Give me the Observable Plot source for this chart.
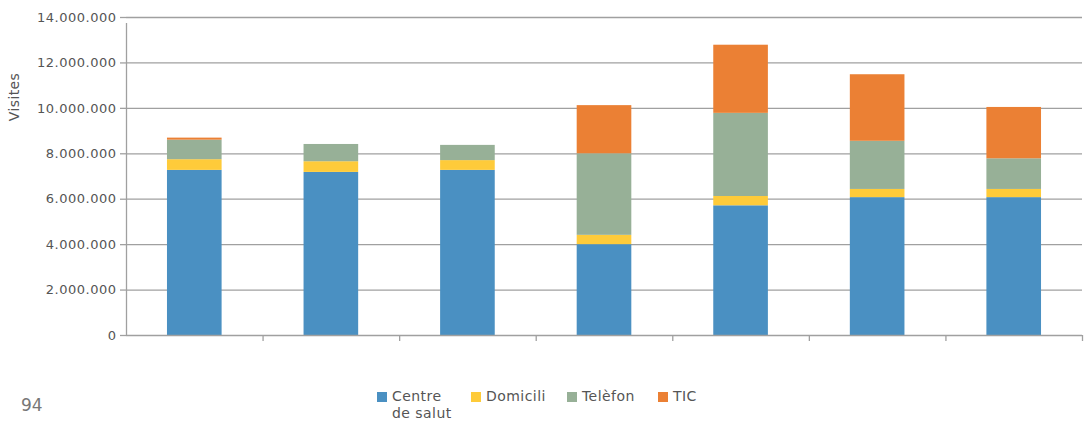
<!DOCTYPE html>
<html>
<head>
<meta charset="utf-8">
<script src="https://cdn.jsdelivr.net/npm/d3@7"></script>
<script src="https://cdn.jsdelivr.net/npm/@observablehq/plot@0.6"></script>
<style>
  body { margin: 0; background: #fff; }
  #wrap { position: relative; width: 1085px; height: 421px; font-family: "DejaVu Sans", sans-serif; color: #555; }
  #chart { position: absolute; left: 0; top: 0; }
  .ylabel { position: absolute; left: 14px; top: 97px; transform: translate(-50%, -50%) rotate(-90deg); font-size: 14px; letter-spacing: 0.4px; color: #555; white-space: nowrap; }
  .leg { position: absolute; top: 388px; display: flex; align-items: flex-start; font-size: 14px; line-height: 17px; letter-spacing: 0.45px; color: #555; }
  .leg .sw { width: 10px; height: 10px; margin-top: 4px; margin-right: 5px; flex: none; }
  .page { position: absolute; left: 21px; top: 395px; font-size: 17px; color: #777; }
</style>
</head>
<body>
<div id="wrap">
  <div id="chart"></div>
  <div class="ylabel">Visites</div>
  <div id="legend"></div>
  <div class="page">94</div>
</div>
<script>
// Categories (years; labels not shown in the original)
const categories = ["2017", "2018", "2019", "2020", "2021", "2022", "2023"];
const seriesNames = ["Centre de salut", "Domicili", "Telèfon", "TIC"];
const seriesColors = ["#4a90c2", "#fecb3a", "#97b097", "#eb8034"];

const centreDeSalut = [7270000, 7180000, 7270000, 4000000, 5710000, 6070000, 6070000];
const domicili      = [ 470000,  470000,  430000,  410000,  410000,  360000,  360000];
const telefon       = [ 860000,  760000,  670000, 3590000, 3660000, 2120000, 1350000];
const tic           = [  90000,       0,       0, 2120000, 3000000, 2930000, 2260000];

const yTicks = [0, 2000000, 4000000, 6000000, 8000000, 10000000, 12000000, 14000000];

const seriesValues = [centreDeSalut, domicili, telefon, tic];
const data = [];
categories.forEach((c, i) => {
  seriesNames.forEach((s, j) => data.push({cat: c, series: s, value: seriesValues[j][i]}));
});

const fmt = d3.formatLocale({decimal: ",", thousands: ".", grouping: [3], currency: ["", ""]}).format(",d");

const W = 1085, H = 350, ML = 126, MR = 3, MT = 17, MB = 15;
const step = (W - ML - MR) / categories.length;
const gridColor = "#a0a0a0";

const plot = Plot.plot({
  width: W,
  height: H,
  marginLeft: ML,
  marginRight: MR,
  marginTop: MT,
  marginBottom: MB,
  style: {fontFamily: "DejaVu Sans, sans-serif", fontSize: "13px", color: "#555", letterSpacing: "0.5px"},
  x: {domain: categories, paddingInner: 0.6, paddingOuter: 0.3, round: false, axis: null},
  y: {domain: [0, 14000000], axis: null},
  color: {domain: seriesNames, range: seriesColors},
  marks: [
    Plot.ruleY(yTicks.filter(d => d > 0), {y: d => d, stroke: gridColor, strokeWidth: 1.3}),
    Plot.axisY({ticks: yTicks, tickSize: 6, tickPadding: 4, tickFormat: fmt, stroke: gridColor, strokeWidth: 1.3, fill: "#555", fontSize: 13, label: null}),
    Plot.barY(data, {x: "cat", y: "value", fill: "series"}),
    Plot.ruleY([0], {stroke: gridColor, strokeWidth: 1.3}),
    // band boundary ticks below the baseline
    Plot.ruleX(categories.slice(1), {x: d => d, y1: 0, y2: 0, insetBottom: -6, dx: -step / 2, stroke: gridColor, strokeWidth: 1.3}),
    Plot.ruleX(categories.slice(-1), {x: d => d, y1: 0, y2: 0, insetBottom: -6, dx: step / 2, stroke: gridColor, strokeWidth: 1.3}),
    // vertical axis line at left edge
    Plot.ruleX(categories.slice(0, 1), {x: d => d, y1: 0, y2: 14000000, insetBottom: -6, dx: -step / 2, stroke: gridColor, strokeWidth: 1.3})
  ]
});
document.getElementById("chart").appendChild(plot);

// Legend
const legendLefts = [377, 471, 567, 658];
const legendWidths = [60, null, null, null];
const legend = document.getElementById("legend");
seriesNames.forEach((s, i) => {
  const item = document.createElement("div");
  item.className = "leg";
  item.style.left = legendLefts[i] + "px";
  const sw = document.createElement("div");
  sw.className = "sw";
  sw.style.background = seriesColors[i];
  const t = document.createElement("div");
  t.textContent = s;
  if (legendWidths[i]) t.style.width = legendWidths[i] + "px"; else t.style.whiteSpace = "nowrap";
  item.appendChild(sw);
  item.appendChild(t);
  legend.appendChild(item);
});
</script>
</body>
</html>
